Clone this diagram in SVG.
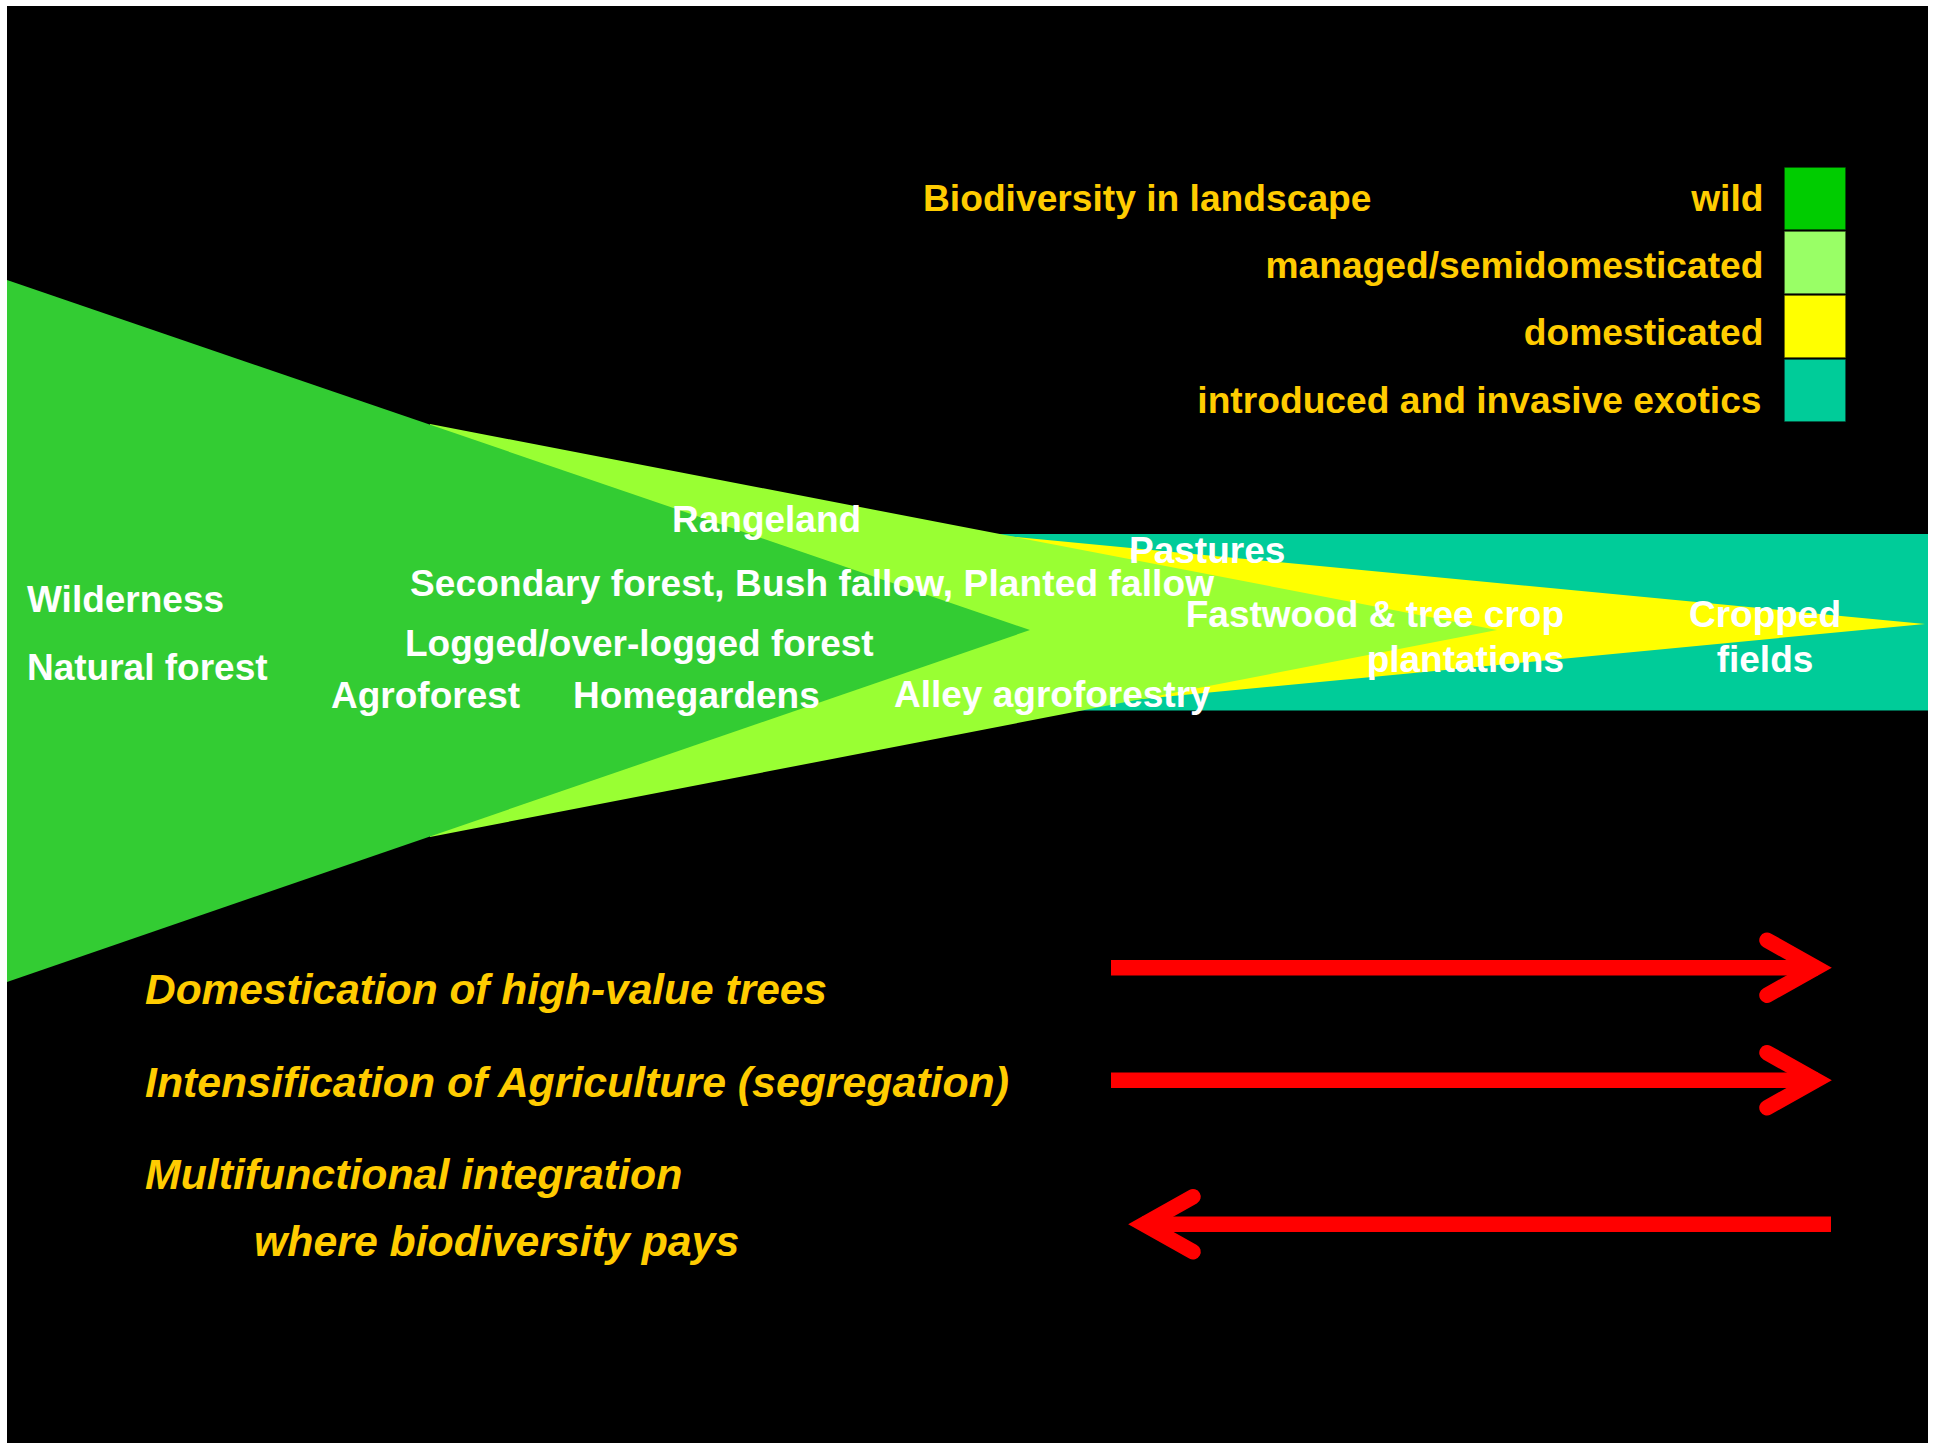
<svg xmlns="http://www.w3.org/2000/svg" width="1933" height="1443" viewBox="0 0 1933 1443">
<style>
.lbl{font-family:"Liberation Sans",Arial,sans-serif;font-weight:bold;font-size:37px;fill:#FFFFFF}
.leg{font-family:"Liberation Sans",Arial,sans-serif;font-weight:bold;font-size:37.2px;fill:#FFCC00}
.it{font-family:"Liberation Sans",Arial,sans-serif;font-weight:bold;font-style:italic;font-size:42.8px;fill:#FFCC00}
.shaft{fill:none;stroke:#FF0000;stroke-width:15.5;stroke-linecap:butt}
.head{fill:none;stroke:#FF0000;stroke-width:15.5;stroke-linecap:round;stroke-linejoin:miter;stroke-miterlimit:10}
.box{stroke:#000000;stroke-opacity:0.75;stroke-width:1.5}
</style>
<rect x="0" y="0" width="1933" height="1443" fill="#FFFFFF"/>
<rect x="7" y="6" width="1921" height="1437" fill="#000000"/>

<g id="landscape">
  <rect id="exotics-band" x="995" y="534" width="933" height="176.5" fill="#00CC99"/>
  <polygon id="domesticated-wedge" points="995,535 1925,624 995,713" fill="#FFFF00"/>
  <polygon id="managed-wedge" points="430,424 1497,630 430,837" fill="#99FF33"/>
  <polygon id="wild-wedge" points="7,280 1030,630 7,982" fill="#33CC33"/>
</g>

<g id="labels">
  <text id="wilderness" class="lbl" x="27" y="612">Wilderness</text>
  <text id="natural-forest" class="lbl" x="27" y="680">Natural forest</text>
  <text id="rangeland" class="lbl" x="672" y="532">Rangeland</text>
  <text id="secondary-forest" class="lbl" x="410" y="596" textLength="804" lengthAdjust="spacing">Secondary forest, Bush fallow, Planted fallow</text>
  <text id="logged-forest" class="lbl" x="405" y="656">Logged/over-logged forest</text>
  <text id="agroforest" class="lbl" x="331" y="708">Agroforest</text>
  <text id="homegardens" class="lbl" x="573" y="708">Homegardens</text>
  <text id="alley" class="lbl" x="894" y="707">Alley agroforestry</text>
  <text id="pastures" class="lbl" x="1129" y="563">Pastures</text>
  <text id="fastwood" class="lbl" text-anchor="end" x="1564" y="627"><tspan x="1564" y="627">Fastwood &amp; tree crop</tspan><tspan x="1564" y="672">plantations</tspan></text>
  <text id="cropped" class="lbl" text-anchor="middle" x="1765" y="627"><tspan x="1765" y="627">Cropped</tspan><tspan x="1765" y="672">fields</tspan></text>
</g>

<g id="legend">
  <text id="legend-title" class="leg" x="923" y="211">Biodiversity in landscape</text>
  <g id="legend-wild">
    <text class="leg" text-anchor="end" x="1763.5" y="211">wild</text>
    <rect class="box" x="1784" y="167" width="62" height="63" fill="#00CC00"/>
  </g>
  <g id="legend-managed">
    <text class="leg" text-anchor="end" x="1763.5" y="278">managed/semidomesticated</text>
    <rect class="box" x="1784" y="231" width="62" height="63" fill="#99FF66"/>
  </g>
  <g id="legend-domesticated">
    <text class="leg" text-anchor="end" x="1763.5" y="345">domesticated</text>
    <rect class="box" x="1784" y="295" width="62" height="63" fill="#FFFF00"/>
  </g>
  <g id="legend-exotics">
    <text class="leg" text-anchor="end" x="1761.5" y="413">introduced and invasive exotics</text>
    <rect class="box" x="1784" y="359" width="62" height="63" fill="#00CC99"/>
  </g>
</g>

<g id="trends">
  <text id="trend-domestication" class="it" x="145" y="1003.5" textLength="682" lengthAdjust="spacingAndGlyphs">Domestication of high-value trees</text>
  <text id="trend-intensification" class="it" x="145" y="1096.5">Intensification of Agriculture (segregation)</text>
  <text id="trend-multifunctional" class="it" x="145" y="1188.5">Multifunctional integration</text>
  <text id="trend-multifunctional-2" class="it" x="254" y="1255.5">where biodiversity pays</text>
</g>

<g id="arrows">
  <g id="arrow-domestication">
    <line class="shaft" x1="1111" y1="967.7" x2="1818" y2="967.7"/>
    <polyline class="head" points="1767,940.2 1816,967.7 1767,995.2"/>
  </g>
  <g id="arrow-intensification">
    <line class="shaft" x1="1111" y1="1080.2" x2="1818" y2="1080.2"/>
    <polyline class="head" points="1767,1052.7 1816,1080.2 1767,1107.7"/>
  </g>
  <g id="arrow-multifunctional">
    <line class="shaft" x1="1831" y1="1224.2" x2="1142" y2="1224.2"/>
    <polyline class="head" points="1193,1196.7 1144,1224.2 1193,1251.7"/>
  </g>
</g>
</svg>
